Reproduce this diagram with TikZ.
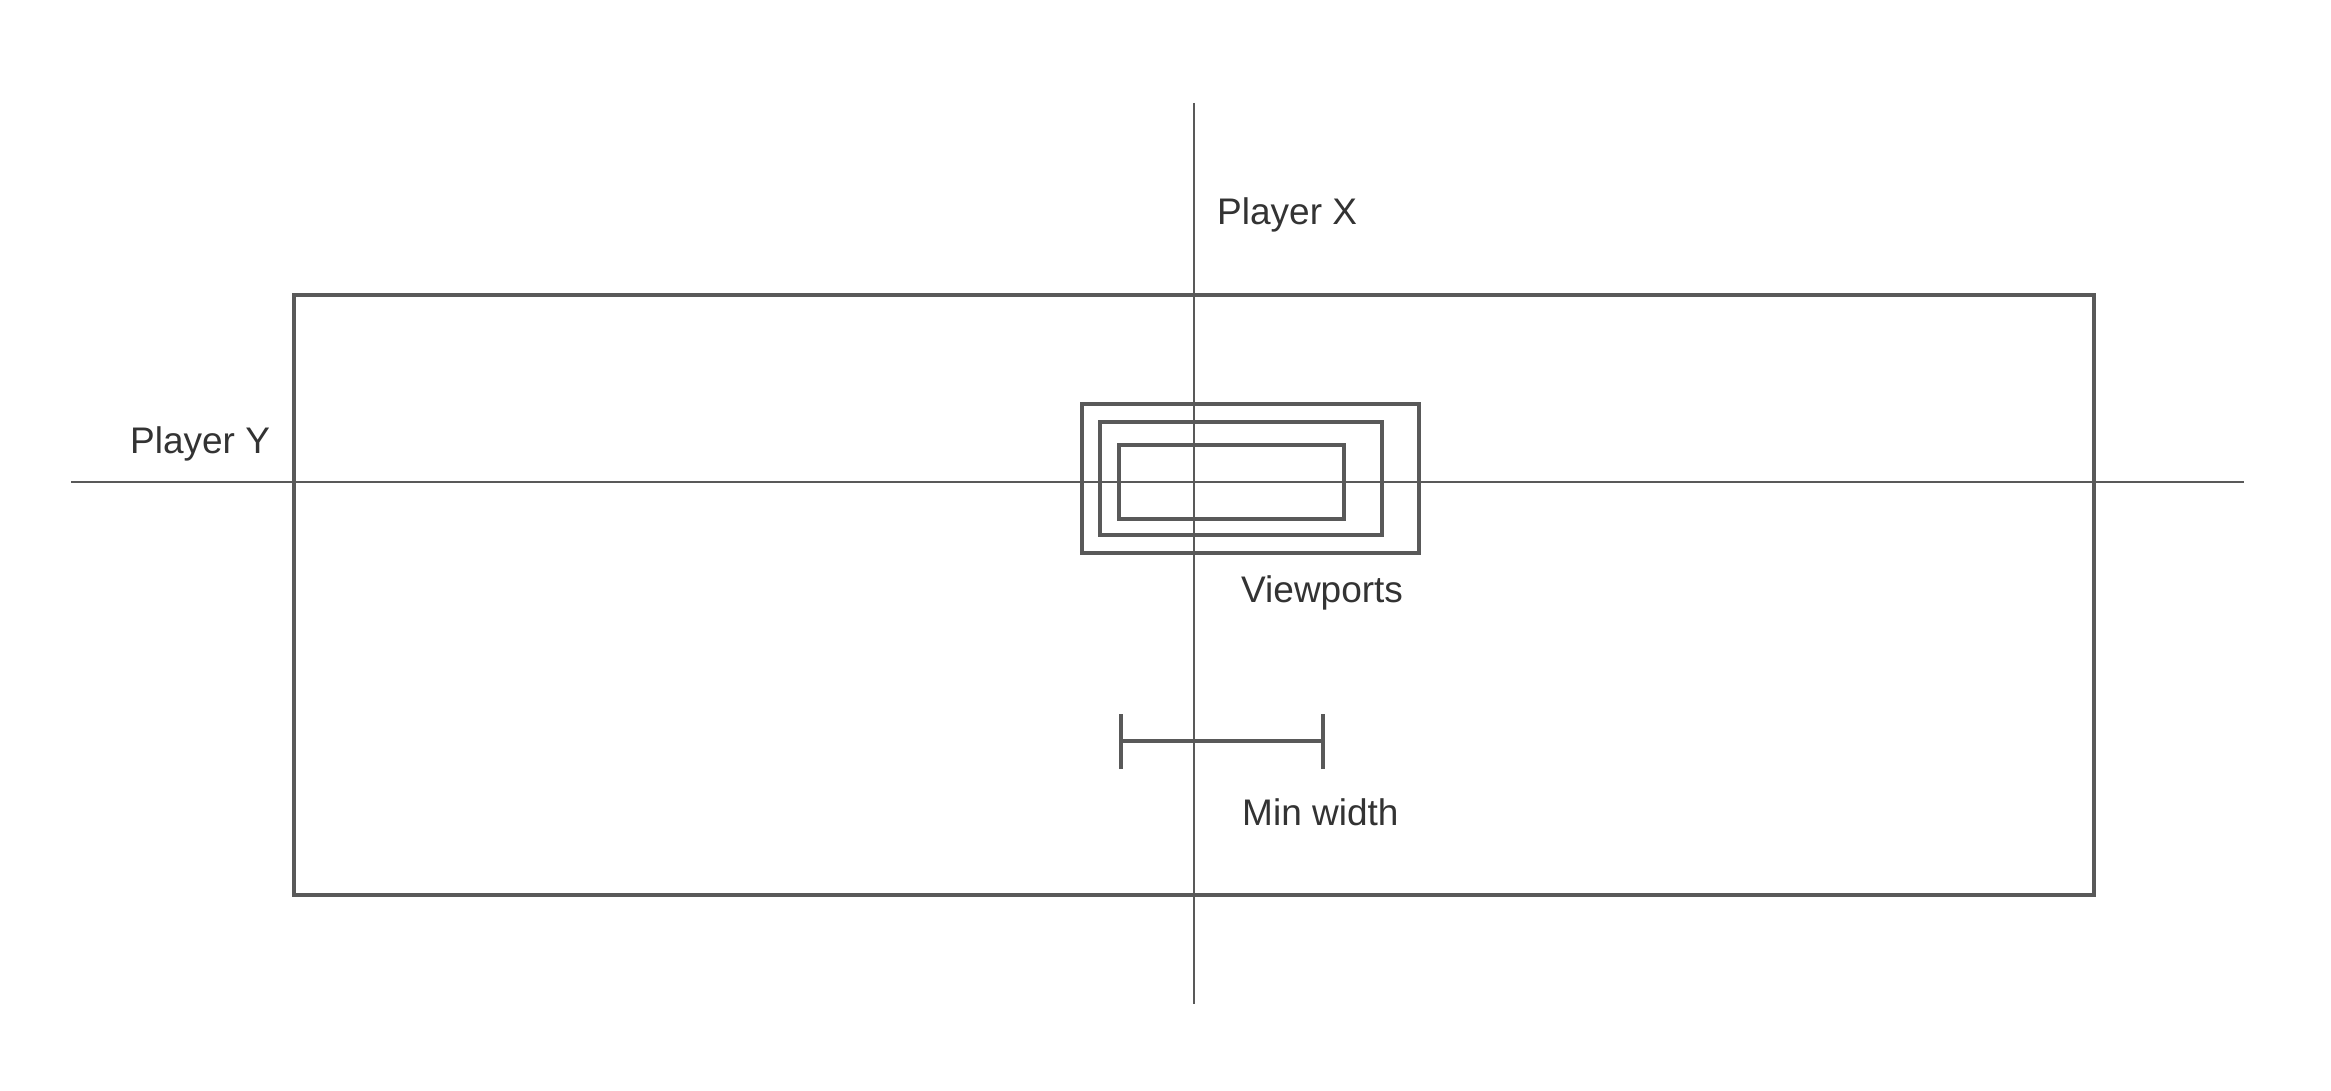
\documentclass[tikz,border=0pt]{standalone}
\usepackage{fontspec}
\setmainfont{Liberation Sans}
\definecolor{linegray}{HTML}{595959}
\definecolor{textgray}{HTML}{333333}
\begin{document}
\begin{tikzpicture}[x=1pt,y=-1pt,
  axis/.style={draw=linegray,line width=2pt},
  area/.style={draw=linegray,line width=4.5pt},
  viewbox/.style={draw=linegray,line width=3.6pt},
  bar/.style={draw=linegray,line width=3.5pt},
  label/.style={anchor=base west,inner sep=0pt,text=textgray,font=\fontsize{37}{44}\selectfont}]
\useasboundingbox[fill=white] (0,0) rectangle (2331,1091);
% axes endpoints
\coordinate (xtop) at (1194,103);
\coordinate (xbot) at (1194,1004);
\coordinate (yleft) at (71,482);
\coordinate (yright) at (2244,482);
% big area
\draw[area] (294,295) rectangle (2094,895);
% viewports
\draw[viewbox,line width=3.1pt] (1082,404) rectangle (1419,553);
\draw[viewbox] (1100,422) rectangle (1382,535);
\draw[viewbox] (1119,445) rectangle (1344,519);
% axes
\draw[axis] (xtop) -- (xbot);
\draw[axis] (yleft) -- (yright);
% min width
\coordinate (mwl) at (1121,741);
\coordinate (mwr) at (1323,741);
\draw[bar] (mwl) -- (mwr);
\draw[bar] ([yshift=-28pt]mwl) -- ([yshift=27pt]mwl);
\draw[bar] ([yshift=-28pt]mwr) -- ([yshift=27pt]mwr);
% labels
\node[label] (px) at (1217,225) {Player X};
\node[label] (py) at (130,453) {Player Y};
\node[label] (vp) at (1241,602) {Viewports};
\node[label] (mw) at (1242,825) {Min width};
\end{tikzpicture}
\end{document}
